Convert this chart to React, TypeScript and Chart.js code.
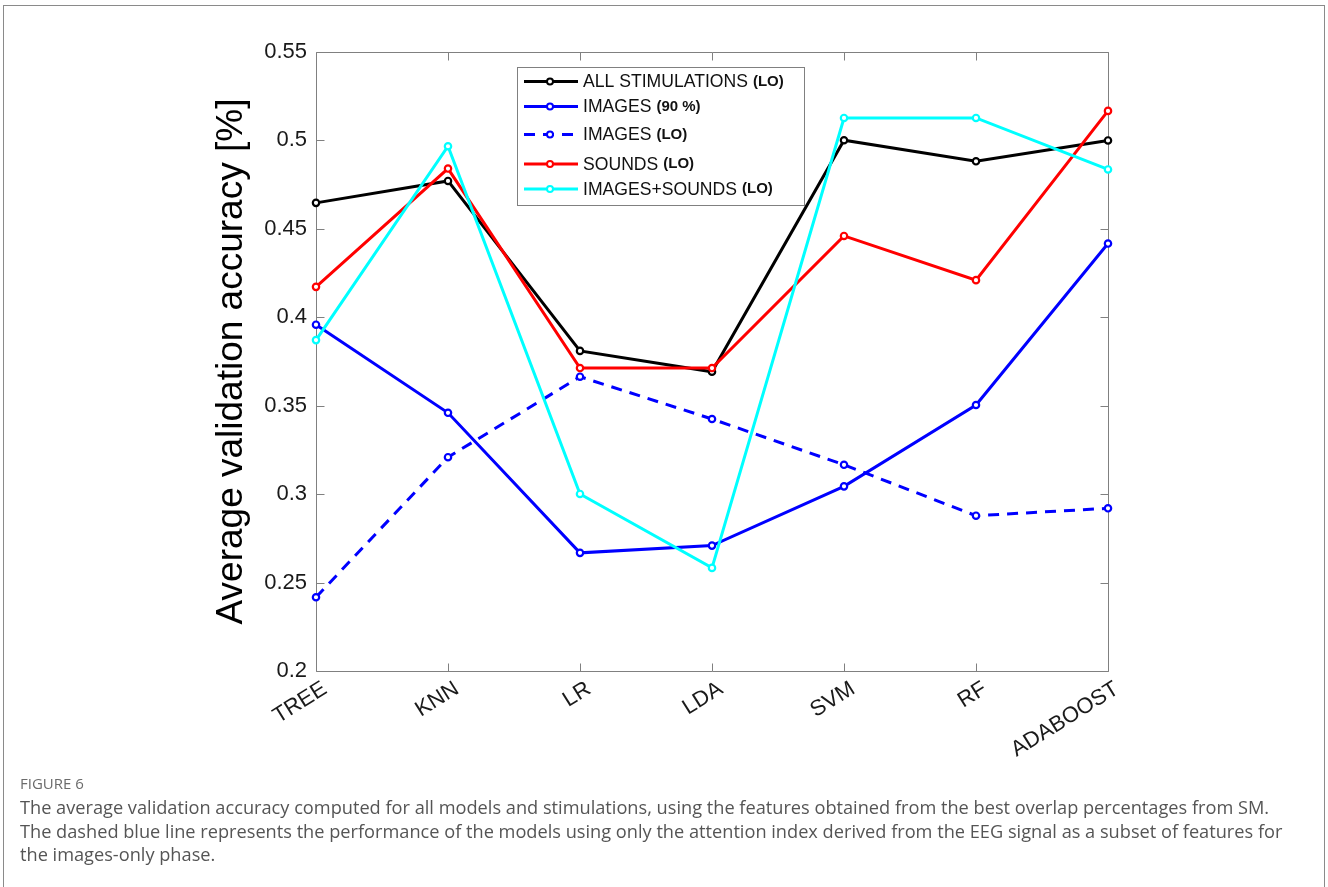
import React, { useEffect, useRef } from "react";
import { Chart, registerables } from "chart.js";

Chart.register(...registerables);

// ---- data ----
const models = ["TREE", "KNN", "LR", "LDA", "SVM", "RF", "ADABOOST"];
const allStimulationsLO = [0.4647, 0.4771, 0.381, 0.3692, 0.5001, 0.4882, 0.5];
const images90 = [0.3958, 0.346, 0.2668, 0.2709, 0.3044, 0.3504, 0.4417];
const imagesLO = [0.2417, 0.3209, 0.3664, 0.3425, 0.3166, 0.2878, 0.292];
const soundsLO = [0.4172, 0.4841, 0.3713, 0.3713, 0.446, 0.421, 0.5167];
const imagesSoundsLO = [0.3871, 0.4967, 0.3001, 0.2583, 0.5127, 0.5127, 0.4836];

const seriesNames = ["ALL STIMULATIONS", "IMAGES", "IMAGES", "SOUNDS", "IMAGES+SOUNDS"];
const seriesTags = ["(LO)", "(90 %)", "(LO)", "(LO)", "(LO)"];
const seriesColors = ["#000000", "#0000ff", "#0000ff", "#ff0000", "#00ffff"];
const seriesDashed = [false, false, true, false, false];
const seriesValues = [allStimulationsLO, images90, imagesLO, soundsLO, imagesSoundsLO];

const yMin = 0.2;
const yMax = 0.55;
const yStep = 0.05;
const yTitle = "Average validation accuracy [%]";

const captionHead = "FIGURE 6";
const captionLines = [
  "The average validation accuracy computed for all models and stimulations, using the features obtained from the best overlap percentages from SM.",
  "The dashed blue line represents the performance of the models using only the attention index derived from the EEG signal as a subset of features for",
  "the images-only phase.",
];

const AXIS_FONT = "'Liberation Sans', Arial, Helvetica, sans-serif";
const DASH = [11, 8];

const framePlugin = {
  id: "matlabFrame",
  beforeDatasetsDraw(chart: any) {
    const { ctx, chartArea, scales } = chart;
    const { left, right, top, bottom } = chartArea;
    const xs = scales.x;
    const ys = scales.y;
    ctx.save();
    ctx.strokeStyle = "#808080";
    ctx.lineWidth = 1;
    const L = Math.round(left) + 0.5;
    const R = Math.round(right) + 0.5;
    const T = Math.round(top) + 0.5;
    const B = Math.round(bottom) + 0.5;
    ctx.beginPath();
    ctx.rect(L, T, R - L, B - T);
    ctx.stroke();
    const tl = 8;
    ctx.beginPath();
    ys.ticks.forEach((t: any) => {
      const py = Math.round(ys.getPixelForValue(t.value)) + 0.5;
      ctx.moveTo(L, py);
      ctx.lineTo(L + tl, py);
      ctx.moveTo(R, py);
      ctx.lineTo(R - tl, py);
    });
    models.forEach((_, i) => {
      const px = Math.round(xs.getPixelForValue(i)) + 0.5;
      ctx.moveTo(px, B);
      ctx.lineTo(px, B - tl);
      ctx.moveTo(px, T);
      ctx.lineTo(px, T + tl);
    });
    ctx.stroke();
    ctx.restore();
  },
  afterDatasetsDraw(chart: any) {
    const { ctx } = chart;
    ctx.save();
    // legend box
    const bx = 517, by = 67, bw = 287, bh = 138;
    ctx.fillStyle = "#ffffff";
    ctx.fillRect(bx, by, bw, bh);
    ctx.strokeStyle = "#808080";
    ctx.lineWidth = 1;
    ctx.strokeRect(bx + 0.5, by + 0.5, bw, bh);
    const rowsY = [81.5, 106.5, 134.5, 164, 189];
    const x0 = 524, x1 = 578, xm = 550, tx = 583;
    seriesNames.forEach((name, i) => {
      const yy = rowsY[i];
      ctx.strokeStyle = seriesColors[i];
      ctx.lineWidth = 3;
      ctx.setLineDash(seriesDashed[i] ? DASH : []);
      ctx.beginPath();
      ctx.moveTo(x0, yy);
      ctx.lineTo(x1, yy);
      ctx.stroke();
      ctx.setLineDash([]);
      ctx.beginPath();
      ctx.arc(xm, yy, 3, 0, Math.PI * 2);
      ctx.fillStyle = "#ffffff";
      ctx.fill();
      ctx.lineWidth = 2;
      ctx.stroke();
      ctx.fillStyle = "#111111";
      ctx.textBaseline = "middle";
      ctx.textAlign = "left";
      ctx.font = `17.6px ${AXIS_FONT}`;
      ctx.fillText(name, tx, yy + 1);
      const w = ctx.measureText(name).width;
      ctx.font = `bold 15px ${AXIS_FONT}`;
      ctx.fillText(seriesTags[i], tx + w + 5, yy);
    });
    ctx.restore();
  },
};

export default function App() {
  const canvasRef = useRef<HTMLCanvasElement | null>(null);

  useEffect(() => {
    const canvas = canvasRef.current;
    if (!canvas) return;
    const datasets = seriesNames.map((name, i) => ({
      label: `${name} ${seriesTags[i]}`,
      data: seriesValues[i],
      borderColor: seriesColors[i],
      backgroundColor: "#ffffff",
      pointBorderColor: seriesColors[i],
      pointBackgroundColor: "#ffffff",
      borderWidth: 3,
      borderDash: seriesDashed[i] ? DASH : [],
      pointRadius: 3.2,
      pointBorderWidth: 2.2,
      pointHoverRadius: 3,
      tension: 0,
      fill: false,
      clip: false as any,
      order: seriesNames.length - i,
    }));
    const chart = new Chart(canvas, {
      type: "line",
      data: { labels: models, datasets },
      options: {
        responsive: false,
        animation: false,
        events: [],
        layout: { padding: { left: 0, top: 52, right: 220, bottom: 0 } },
        plugins: { legend: { display: false }, tooltip: { enabled: false } },
        scales: {
          x: {
            type: "category",
            offset: false,
            grid: { display: false, drawTicks: false },
            border: { display: false },
            ticks: {
              color: "#1a1a1a",
              font: { family: AXIS_FONT, size: 22 },
              maxRotation: 32,
              minRotation: 32,
              padding: 5,
              labelOffset: 9,
              autoSkip: false,
            },
            afterFit: (s: any) => {
              s.height = 216;
            },
          },
          y: {
            type: "linear",
            min: yMin,
            max: yMax,
            grid: { display: false, drawTicks: false },
            border: { display: false },
            ticks: {
              stepSize: yStep,
              color: "#1a1a1a",
              font: { family: AXIS_FONT, size: 22 },
              padding: 9,
              callback: (v: any) => String(Number(Number(v).toFixed(2))),
            },
            title: {
              display: true,
              text: yTitle,
              color: "#000000",
              font: { family: AXIS_FONT, size: 37 },
              padding: { top: 210, bottom: 0 },
            },
            afterFit: (s: any) => {
              s.width = 316;
            },
          },
        },
      },
      plugins: [framePlugin],
    });
    return () => chart.destroy();
  }, []);

  return (
    <div
      style={{
        position: "absolute",
        left: 0,
        top: 0,
        width: 1328,
        height: 887,
        overflow: "hidden",
        background: "#ffffff",
      }}
    >
      <canvas
        ref={canvasRef}
        width={1328}
        height={887}
        style={{ position: "absolute", left: 0, top: 0, width: 1328, height: 887 }}
      />
      <div
        style={{
          position: "absolute",
          left: 3,
          top: 5,
          width: 1320,
          height: 950,
          border: "1px solid #8a8a8a",
          pointerEvents: "none",
        }}
      />
      <div
        style={{
          position: "absolute",
          left: 20,
          top: 773,
          fontFamily: "'Open Sans', 'Noto Sans', sans-serif",
          fontSize: 15,
          color: "#6b6b6b",
          lineHeight: "20px",
        }}
      >
        {captionHead}
      </div>
      <div
        style={{
          position: "absolute",
          left: 20,
          top: 796,
          fontFamily: "'Open Sans', 'Noto Sans', sans-serif",
          fontSize: 18.2,
          color: "#555555",
          lineHeight: "23.5px",
          whiteSpace: "nowrap",
        }}
      >
        {captionLines.map((l, i) => (
          <div key={i}>{l}</div>
        ))}
      </div>
    </div>
  );
}
